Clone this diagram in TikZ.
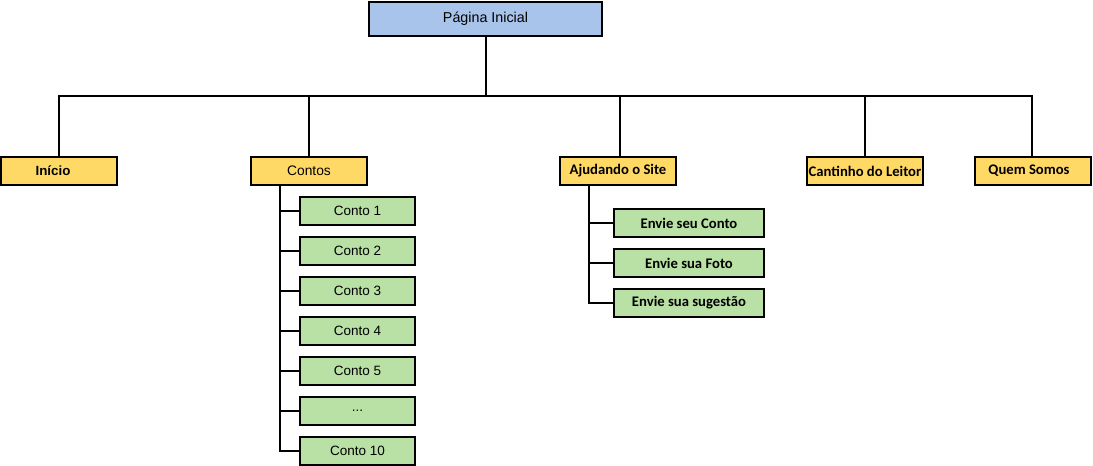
\documentclass[tikz,border=0pt]{standalone}
\usepackage{fontspec}
\setmainfont{Liberation Sans}
\newfontfamily\calibfont{Carlito}
\definecolor{topblue}{HTML}{A9C4EB}
\definecolor{boxyellow}{HTML}{FFD966}
\definecolor{boxgreen}{HTML}{B9E0A5}
\tikzset{
  base/.style={draw=black, line width=2pt, rectangle, inner sep=0pt, minimum height=28pt},
  topbox/.style={base, fill=topblue, minimum width=233pt, minimum height=34pt, font=\fontsize{14.3}{17}\selectfont},
  mainbox/.style={base, fill=boxyellow, minimum width=116pt},
  arialtxt/.style={font=\fontsize{13.8}{16}\selectfont},
  arialbold/.style={font=\fontsize{13.33}{16}\selectfont\bfseries},
  calibbold/.style={font=\calibfont\fontsize{14.67}{17}\selectfont\bfseries},
  contobox/.style={base, fill=boxgreen, minimum width=115pt, font=\fontsize{13.5}{16}\selectfont},
  enviebox/.style={base, fill=boxgreen, minimum width=150pt, font=\calibfont\fontsize{14.67}{17}\selectfont\bfseries},
  conn/.style={draw=black, line width=2pt}
}
\begin{document}
\begin{tikzpicture}[x=1pt, y=-1pt]
\useasboundingbox (0,0) rectangle (1093,466);
\fill[white] (0,0) rectangle (1093,466);

\node[topbox] (top) at (485.5,19) {Página Inicial};

\node[mainbox, arialbold] (inicio) at (59,171) {\hspace*{-12pt}Início};
\node[mainbox, arialtxt] (contos) at (309,171) {Contos};
\node[mainbox, calibbold] (ajud) at (618,171) {Ajudando o Site};
\node[mainbox, calibbold] (cant) at (865,171) {Cantinho do Leitor};
\node[mainbox, calibbold] (quem) at (1033,171) {\hspace*{-8pt}Quem Somos};

\node[contobox] (c1) at (357.5,211) {Conto 1};
\node[contobox] (c2) at (357.5,251) {Conto 2};
\node[contobox] (c3) at (357.5,291) {Conto 3};
\node[contobox] (c4) at (357.5,331) {Conto 4};
\node[contobox] (c5) at (357.5,371) {Conto 5};
\node[contobox] (c6) at (357.5,411) {...};
\node[contobox] (c10) at (357.5,451) {Conto 10};

\node[enviebox] (e1) at (689,223) {Envie seu Conto};
\node[enviebox] (e2) at (689,263) {Envie sua Foto};
\node[enviebox] (e3) at (689,303) {Envie sua sugestão};

\coordinate (busL) at (59,96);
\coordinate (busR) at (1032,96);
\coordinate (ctrunk) at (280,0);
\coordinate (atrunk) at (589,0);
\coordinate (ajdrop) at (620,0);

\draw[conn] (top.south) -- (top.south |- busL);
\draw[conn] ([xshift=-1pt]busL) -- ([xshift=1pt]busR);
\draw[conn] (inicio.north) -- (inicio.north |- busL);
\draw[conn] (contos.north) -- (contos.north |- busL);
\draw[conn] (ajud.north -| ajdrop) -- (busL -| ajdrop);
\draw[conn] (cant.north) -- (cant.north |- busL);
\draw[conn] (quem.north -| busR) -- (busR);

\draw[conn] (contos.south -| ctrunk) |- (c10.west);
\foreach \n in {c1,c2,c3,c4,c5,c6} {
  \draw[conn] (\n.west) -- (\n.west -| ctrunk);
}
\draw[conn] (ajud.south -| atrunk) |- (e3.west);
\foreach \n in {e1,e2} {
  \draw[conn] (\n.west) -- (\n.west -| atrunk);
}
\end{tikzpicture}
\end{document}
